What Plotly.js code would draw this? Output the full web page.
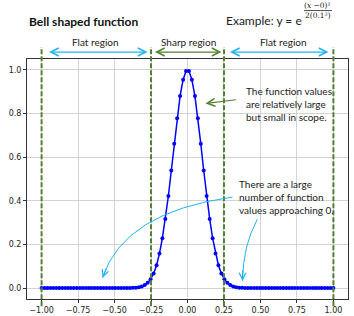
<!DOCTYPE html>
<html>
<head>
<meta charset="utf-8">
<script src="https://cdn.plot.ly/plotly-3.0.1.min.js"></script>
<style>html,body{margin:0;padding:0;background:#fff}#chart{width:354px;height:316px}</style>
</head>
<body>
<div id="chart"></div>
<script>
// Sample positions (x) and function values (y)
const xNeg = [-1.000,-0.980,-0.960,-0.939,-0.919,-0.899,-0.879,-0.859,-0.838,-0.818,
  -0.798,-0.778,-0.758,-0.737,-0.717,-0.697,-0.677,-0.657,-0.636,-0.616,
  -0.596,-0.576,-0.556,-0.535,-0.515,-0.495,-0.475,-0.455,-0.434,-0.414,
  -0.394,-0.374,-0.354,-0.333,-0.313,-0.293,-0.273,-0.253,-0.232,-0.212,
  -0.192,-0.172,-0.152,-0.131,-0.111,-0.091,-0.071,-0.051,-0.030,-0.010];
const xPos = [0.010,0.030,0.051,0.071,0.091,0.111,0.131,0.152,0.172,0.192,
  0.212,0.232,0.253,0.273,0.293,0.313,0.333,0.354,0.374,0.394,
  0.414,0.434,0.455,0.475,0.495,0.515,0.535,0.556,0.576,0.596,
  0.616,0.636,0.657,0.677,0.697,0.717,0.737,0.758,0.778,0.798,
  0.818,0.838,0.859,0.879,0.899,0.919,0.939,0.960,0.980,1.000];
const yNeg = [0,0,0,0,0,0,0,0,0,0,
  0,0,0,0,0,0,0,0,0,0,
  0,0,0,0,0,0,0,0,0,0,
  0.000,0.001,0.002,0.004,0.007,0.014,0.024,0.041,0.067,0.105,
  0.159,0.229,0.317,0.422,0.539,0.662,0.779,0.880,0.955,0.995];
const yPos = [0.995,0.955,0.880,0.779,0.662,0.539,0.422,0.317,0.229,0.159,
  0.105,0.067,0.041,0.024,0.014,0.007,0.004,0.002,0.001,0.000,
  0,0,0,0,0,0,0,0,0,0,
  0,0,0,0,0,0,0,0,0,0,
  0,0,0,0,0,0,0,0,0,0];
const xTicks = [-1.0,-0.75,-0.5,-0.25,0,0.25,0.5,0.75,1.0];
const xTickText = ['\u22121.00','\u22120.75','\u22120.50','\u22120.25','0.00','0.25','0.50','0.75','1.00'];
const yTicks = [0,0.2,0.4,0.6,0.8,1.0];
const yTickText = ['0.0','0.2','0.4','0.6','0.8','1.0'];
const boundaries = [-1, -0.25, 0.25, 1];
const regionLabels = ['Flat region','Sharp region','Flat region'];

const xs = xNeg.concat(xPos);
const ys = yNeg.concat(yPos);

const green = '#538135';
const cyan = '#1fb4f0';
const txtFont = {family:'Lato, "Open Sans", sans-serif', size:10, color:'#222'};

const trace = {
  x: xs, y: ys, type:'scatter', mode:'lines+markers',
  line:{color:'#0000ff', width:1.5},
  marker:{color:'#0000ff', size:4},
  hoverinfo:'skip', showlegend:false
};

const shapes = boundaries.map(b => ({
  type:'line', xref:'x', yref:'paper', x0:b, x1:b, y0:-0.03, y1:1.05,
  line:{color:green, width:2, dash:'5px,2px'}, layer:'above'
}));
// curved arrow bodies
shapes.push({type:'path', xref:'x', yref:'y', path:'M0.308,0.417 Q-0.438,0.348 -0.582,0.047',
  line:{color:cyan, width:1}});
shapes.push({type:'path', xref:'x', yref:'y', path:'M0.479,0.316 Q0.380,0.195 0.377,0.033',
  line:{color:cyan, width:1}});
// fraction bar of formula
shapes.push({type:'line', xref:'paper', yref:'paper', x0:0.863, x1:0.95, y0:1.202, y1:1.202,
  line:{color:'#222', width:0.8}});

const ann = [];
// title
ann.push({xref:'paper', yref:'paper', x:0.0, y:1.158, xanchor:'left', yanchor:'middle',
  text:'<b>Bell shaped function</b>', showarrow:false,
  font:{family:'Lato, "Open Sans", sans-serif', size:12, color:'#111'}});
// formula
ann.push({xref:'paper', yref:'paper', x:0.862, y:1.16, xanchor:'right', yanchor:'middle',
  text:'Example: y = e', showarrow:false,
  font:{family:'Lato, "Open Sans", sans-serif', size:12, color:'#222'}});
ann.push({xref:'paper', yref:'paper', x:0.906, y:1.222, xanchor:'center', yanchor:'middle',
  text:'(<i>x</i> \u22120)\u00b2', showarrow:false,
  font:{family:'"DejaVu Serif", serif', size:7.5, color:'#222'}});
ann.push({xref:'paper', yref:'paper', x:0.906, y:1.183, xanchor:'center', yanchor:'middle',
  text:'2(0.1\u00b2)', showarrow:false,
  font:{family:'"DejaVu Serif", serif', size:7.5, color:'#222'}});
// region labels
const regionCenters = [-0.63, 0.01, 0.66];
regionLabels.forEach((t,i) => ann.push({xref:'x', yref:'paper', x:regionCenters[i], y:1.071,
  xanchor:'center', yanchor:'middle', text:t, showarrow:false, font:txtFont}));
// double arrows
const arrowSpans = [[-0.959,-0.274,cyan],[-0.233,0.233,green],[0.281,0.966,cyan]];
arrowSpans.forEach(s => ann.push({xref:'x', yref:'paper', x:s[1], y:1.029,
  axref:'x', ax:s[0], ayref:'pixel', ay:0, text:'', showarrow:true,
  arrowside:'end+start', arrowhead:5, startarrowhead:5, arrowsize:1.3, startarrowsize:1.3,
  arrowwidth:1.2, arrowcolor:s[2]}));
// text blocks
ann.push({xref:'x', yref:'y', x:0.39, y:0.846, xanchor:'left', yanchor:'middle', align:'left',
  text:'The function values<br>are relatively large<br>but small in scope.', showarrow:false, font:txtFont});
ann.push({xref:'x', yref:'y', x:0.342, y:0.417, xanchor:'left', yanchor:'middle', align:'left',
  text:'There are a large<br>number of function<br>values approaching 0.', showarrow:false, font:txtFont});
// green arrow
ann.push({xref:'x', yref:'y', x:0.123, y:0.846, axref:'x', ax:0.342, ayref:'y', ay:0.864,
  text:'', showarrow:true, arrowhead:5, arrowsize:1.3, arrowwidth:1.2, arrowcolor:green});
// cyan arrow heads
ann.push({xref:'x', yref:'y', x:-0.582, y:0.047, axref:'pixel', ax:4, ayref:'pixel', ay:-11,
  text:'', showarrow:true, arrowhead:5, arrowsize:1.3, arrowwidth:1, arrowcolor:cyan});
ann.push({xref:'x', yref:'y', x:0.377, y:0.033, axref:'pixel', ax:0, ayref:'pixel', ay:-12,
  text:'', showarrow:true, arrowhead:5, arrowsize:1.3, arrowwidth:1, arrowcolor:cyan});

const tickFont = {family:'"DejaVu Sans", sans-serif', size:8, color:'#222'};
const layout = {
  width:354, height:316,
  margin:{l:27, r:6, t:59, b:17, pad:0},
  paper_bgcolor:'#fff', plot_bgcolor:'#fff',
  showlegend:false,
  xaxis:{range:[-1.1,1.1], tickvals:xTicks, ticktext:xTickText, tickfont:tickFont,
    showgrid:true, gridcolor:'#d3d3d3', gridwidth:1, zeroline:false,
    showline:true, mirror:true, linecolor:'#333', linewidth:1,
    ticks:'outside', ticklen:3, tickcolor:'#333', fixedrange:true},
  yaxis:{range:[-0.05,1.05], tickvals:yTicks, ticktext:yTickText, tickfont:tickFont,
    showgrid:true, gridcolor:'#d3d3d3', gridwidth:1, zeroline:false,
    showline:true, mirror:true, linecolor:'#333', linewidth:1,
    ticks:'outside', ticklen:3, tickcolor:'#333', fixedrange:true},
  shapes:shapes, annotations:ann
};
Plotly.newPlot('chart', [trace], layout, {displayModeBar:false, staticPlot:true});
</script>
</body>
</html>
